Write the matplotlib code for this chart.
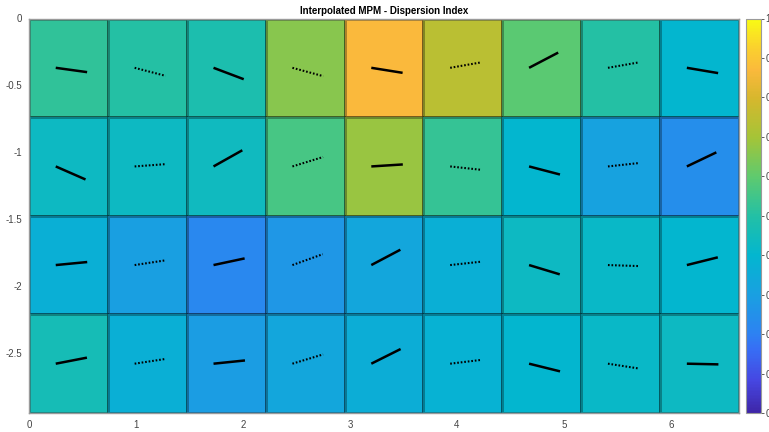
import numpy as np
import matplotlib
matplotlib.use("Agg")
import matplotlib.pyplot as plt
from matplotlib.colors import LinearSegmentedColormap

plt.rcParams['font.family'] = ['Liberation Sans', 'DejaVu Sans']

# Dispersion index per grid cell (rows top to bottom, columns left to right)
dispersion = np.array([
    [0.52, 0.50, 0.48, 0.66, 0.87, 0.74, 0.59, 0.50, 0.40],
    [0.43, 0.43, 0.44, 0.56, 0.68, 0.53, 0.40, 0.31, 0.24],
    [0.37, 0.30, 0.22, 0.27, 0.33, 0.37, 0.43, 0.42, 0.40],
    [0.46, 0.37, 0.29, 0.33, 0.36, 0.38, 0.40, 0.42, 0.43],
])

# Orientation of the mean polarisation direction per cell, degrees
orientation = np.array([
    [-6.3, -11.7, -16.8, -12.2, -7.3, 8.0, 22.7, 8.0, -7.7],
    [-19.3, 3.4, 24.2, 13.8, 2.9, -5.0, -11.8, 5.0, 20.9],
    [4.4, 7.0, 9.7, 16.0, 22.9, 5.0, -13.6, -1.5, 11.3],
    [8.8, 7.0, 4.7, 13.6, 21.8, 5.6, -11.2, -7.1, -1.0],
])

x_ticks = [0, 1, 2, 3, 4, 5, 6]
y_ticks = [0, -0.5, -1, -1.5, -2, -2.5]
cbar_ticks = [0, 0.1, 0.2, 0.3, 0.4, 0.5, 0.6, 0.7, 0.8, 0.9, 1.0]

# Parula-like colormap
parula_pts = [
    (0.00, (62, 38, 168)),
    (0.08, (70, 70, 225)),
    (0.16, (55, 110, 245)),
    (0.20, (45, 130, 242)),
    (0.30, (25, 160, 225)),
    (0.40, (3, 182, 207)),
    (0.50, (35, 192, 165)),
    (0.60, (95, 202, 110)),
    (0.70, (165, 196, 55)),
    (0.80, (215, 183, 45)),
    (0.87, (250, 185, 60)),
    (0.93, (250, 210, 45)),
    (1.00, (249, 251, 20)),
]
parula = LinearSegmentedColormap.from_list(
    "parula_like", [(p, tuple(c / 255 for c in rgb)) for p, rgb in parula_pts])

n_rows, n_cols = dispersion.shape
cell = 0.7375
seg_len = 0.295
seg_start = 0.25

fig = plt.figure(figsize=(7.69, 4.32), dpi=100)
ax = fig.add_axes([29 / 769, 19 / 432, 710 / 769, 394.5 / 432])

x_edges = np.arange(n_cols + 1) * cell
y_edges = -np.arange(n_rows + 1) * cell
mesh = ax.pcolormesh(x_edges, y_edges, dispersion, cmap=parula, vmin=0, vmax=1,
                     edgecolors=(0, 0, 0, 0.3), linewidth=0.9)

for r in range(n_rows):
    for c in range(n_cols):
        a = np.deg2rad(orientation[r, c])
        x0 = c * cell + seg_start
        y0 = -(r + 0.5) * cell
        x1 = x0 + seg_len * np.cos(a)
        y1 = y0 + seg_len * np.sin(a)
        if c % 2 == 0:
            ax.plot([x0, x1], [y0, y1], color='black', lw=1.8, solid_capstyle='butt')
        else:
            ax.plot([x0, x1], [y0, y1], color='black', lw=1.5,
                    linestyle=(0, (0.8, 0.9)))

ax.set_xlim(0, n_cols * cell)
ax.set_ylim(-n_rows * cell, 0)
ax.set_xticks(x_ticks)
ax.set_yticks(y_ticks)
ax.set_xticklabels([f"{v:g}" for v in x_ticks])
ax.set_yticklabels([f"{v:g}" for v in y_ticks])
ax.tick_params(length=0, labelsize=7, colors='#444444', pad=5)
for sp in ax.spines.values():
    sp.set_color('#9a9a9a')
    sp.set_linewidth(1.0)
ax.set_title("Interpolated MPM - Dispersion Index", fontsize=7, fontweight='bold',
             pad=3)

cax = fig.add_axes([746 / 769, 19 / 432, 15 / 769, 394.5 / 432])
cb = fig.colorbar(mesh, cax=cax, ticks=cbar_ticks)
cb.ax.set_yticklabels([f"{v:g}" for v in cbar_ticks])
cb.ax.tick_params(length=2, width=0.6, labelsize=7, colors='#444444', pad=1)
cb.outline.set_edgecolor('#9a9a9a')
cb.outline.set_linewidth(0.8)

fig.savefig("out.png", dpi=100)
